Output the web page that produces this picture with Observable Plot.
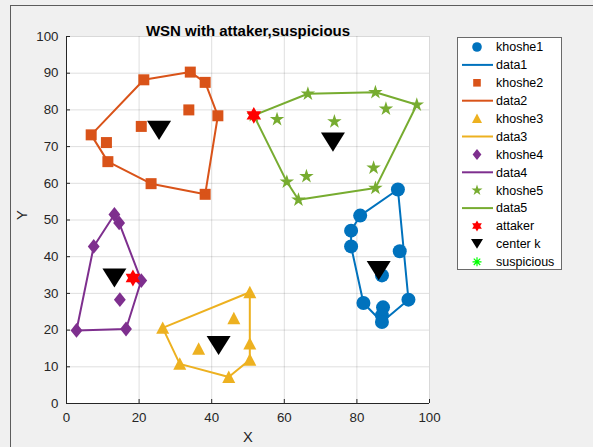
<!DOCTYPE html>
<html>
<head>
<meta charset="utf-8">
<script src="https://cdn.jsdelivr.net/npm/d3@7"></script>
<script src="https://cdn.jsdelivr.net/npm/@observablehq/plot@0.6"></script>
<style>
  html, body { margin: 0; padding: 0; background: #f0f0f0; }
  #wrap { position: relative; width: 593px; height: 447px; overflow: hidden; }
  #edge { position: absolute; left: 10px; top: 5px; right: -2px; bottom: -2px;
          border-top: 1px solid #5c5c5c; border-left: 1px solid #5c5c5c; }
  #chart { position: absolute; left: 0; top: 0; }
</style>
</head>
<body>
<div id="wrap"><div id="edge"></div><div id="chart"></div></div>
<script>
// Axis ticks
const xTicks = [0, 20, 40, 60, 80, 100];
const yTicks = [0, 10, 20, 30, 40, 50, 60, 70, 80, 90, 100];

// Sensor nodes of each cluster (x, y)
const khoshe1 = [[91.3, 58.3], [80.9, 51.2], [78.4, 47.1], [78.4, 42.8], [91.8, 41.5], [86.9, 34.9],
                 [81.8, 27.4], [94.2, 28.3], [87.2, 26.2], [86.9, 24.0], [86.9, 22.2]];
const khoshe2 = [[6.8, 73.2], [11.0, 71.1], [11.4, 65.9], [21.3, 88.2], [20.6, 75.5], [34.1, 90.3],
                 [38.2, 87.5], [33.7, 80.0], [41.7, 78.4], [23.3, 59.9], [38.2, 57.0]];
const khoshe3 = [[50.5, 30.3], [46.1, 23.2], [26.5, 20.6], [36.4, 14.9], [50.5, 16.3], [50.5, 11.9],
                 [31.2, 10.8], [44.7, 7.2]];
const khoshe4 = [[13.2, 51.5], [14.5, 49.2], [7.5, 42.8], [2.75, 19.9], [16.4, 20.3], [14.7, 28.3],
                 [20.6, 33.5]];
const khoshe5 = [[51.6, 78.5], [58.0, 77.4], [66.5, 84.4], [85.1, 84.8], [88.0, 80.3], [96.5, 81.4],
                 [73.8, 76.8], [60.7, 60.4], [66.1, 61.9], [63.9, 55.5], [84.6, 64.2], [85.1, 58.7]];

// Attacking nodes, cluster heads and suspicious nodes
const attaker = [[51.6, 78.5], [18.3, 34.2]];
const centerK = [[86.0, 36.2], [25.5, 74.4], [41.9, 15.8], [13.2, 34.2], [73.4, 71.2]];
const suspicious = [];

const colors = ["#0072BD", "#D95319", "#EDB120", "#7E2F8E", "#77AC30"];

// Closed convex hull around a cluster
const hullOf = pts => { const h = d3.polygonHull(pts); return [...h, h[0]]; };
const data1 = hullOf(khoshe1), data2 = hullOf(khoshe2), data3 = hullOf(khoshe3),
      data4 = hullOf(khoshe4), data5 = hullOf(khoshe5);

// Marker shapes (unit coordinates scaled by the dot radius)
const shape = pts => ({
  draw(ctx, size) {
    const r = Math.sqrt(size / Math.PI);
    pts.forEach(([a, b], i) => i ? ctx.lineTo(a * r, b * r) : ctx.moveTo(a * r, b * r));
    ctx.closePath();
  }
});
const starPts = (n, inner) => d3.range(2 * n).map(i => {
  const ang = -Math.PI / 2 + i * Math.PI / n, rr = i % 2 ? inner : 1;
  return [rr * Math.cos(ang), rr * Math.sin(ang)];
});
const circleSym = d3.symbolCircle;
const squareSym = shape([[-1, -1], [1, -1], [1, 1], [-1, 1]]);
const triUp = shape([[0, -1], [1, 0.9], [-1, 0.9]]);
const triDown = shape([[-1, -0.8], [1, -0.8], [0, 0.8]]);
const diamondSym = shape([[0, -1], [0.8, 0], [0, 1], [-0.8, 0]]);
const pentagram = shape(starPts(5, 0.382));
const hexagram = shape(starPts(6, 0.577));

const font = "'Liberation Sans', Arial, Helvetica, sans-serif";
const ink = "#262626";

const nodes = (pts, symbol, r, fill) =>
  Plot.dot(pts, {x: d => d[0], y: d => d[1], symbol, r, fill, stroke: null});
const hull = (pts, stroke) =>
  Plot.line(pts, {x: d => d[0], y: d => d[1], stroke, strokeWidth: 2, curve: "linear"});

const chart = Plot.plot({
  width: 593,
  height: 447,
  marginLeft: 66,
  marginRight: 164,
  marginTop: 36,
  marginBottom: 44,
  style: {fontFamily: font, fontSize: "13.3px", background: "transparent", color: ink},
  x: {domain: [0, 100], label: null},
  y: {domain: [0, 100], label: null},
  marks: [
    Plot.frame({fill: "white", stroke: null}),
    Plot.gridX({ticks: xTicks, stroke: ink, strokeOpacity: 0.15}),
    Plot.gridY({ticks: yTicks, stroke: ink, strokeOpacity: 0.15}),
    Plot.ruleY([0], {stroke: ink}),
    Plot.ruleX([0], {stroke: ink}),
    Plot.axisX({ticks: xTicks, tickSize: -4, tickPadding: 13, stroke: ink, fill: ink, label: null, tickFormat: d => d}),
    Plot.axisY({ticks: yTicks, tickSize: -4, tickPadding: 12, stroke: ink, fill: ink, label: null, tickFormat: d => d}),

    nodes(khoshe1, circleSym, 7, colors[0]),
    hull(data1, colors[0]),
    nodes(khoshe2, squareSym, 5.5, colors[1]),
    hull(data2, colors[1]),
    nodes(khoshe3, triUp, 6.5, colors[2]),
    hull(data3, colors[2]),
    nodes(khoshe4, diamondSym, 7.4, colors[3]),
    hull(data4, colors[3]),
    nodes(khoshe5, pentagram, 7.6, colors[4]),
    hull(data5, colors[4]),
    nodes(attaker, hexagram, 8.4, "#FF0000"),
    nodes(centerK, triDown, 12, "#000000"),
    nodes(suspicious, d3.symbolCross, 6, "#00FF00"),

    Plot.text(["WSN with attaker,suspicious"], {text: d => d, frameAnchor: "top", dy: -11,
      fontWeight: "bold", fontSize: 15, fill: "#000"}),
    Plot.text(["X"], {text: d => d, frameAnchor: "bottom", dy: 38, fontSize: 14.7, fill: ink}),
    Plot.text(["Y"], {text: d => d, frameAnchor: "left", dx: -44, rotate: -90, fontSize: 14.7, fill: ink})
  ]
});

// Legend box to the right of the axes
const svg = d3.select(chart);
const lg = svg.append("g").attr("font-family", font).attr("font-size", 12.5).attr("text-anchor", "start");
lg.append("rect").attr("x", 457.5).attr("y", 37.5).attr("width", 104).attr("height", 232)
  .attr("fill", "white").attr("stroke", "#6a6a6a").attr("stroke-width", 1);

const entries = [
  {label: "khoshe1", sym: circleSym, r: 4.8, color: colors[0]},
  {label: "data1", line: colors[0]},
  {label: "khoshe2", sym: squareSym, r: 3.8, color: colors[1]},
  {label: "data2", line: colors[1]},
  {label: "khoshe3", sym: triUp, r: 5, color: colors[2]},
  {label: "data3", line: colors[2]},
  {label: "khoshe4", sym: diamondSym, r: 5.5, color: colors[3]},
  {label: "data4", line: colors[3]},
  {label: "khoshe5", sym: pentagram, r: 5.8, color: colors[4]},
  {label: "data5", line: colors[4]},
  {label: "attaker", sym: hexagram, r: 5.6, color: "#FF0000"},
  {label: "center k", sym: triDown, r: 6, color: "#000000"},
  {label: "suspicious", asterisk: "#00FF00"}
];

entries.forEach((e, i) => {
  const y = 47 + i * 17.9;
  const g = lg.append("g");
  if (e.line) {
    g.append("line").attr("x1", 462).attr("x2", 493).attr("y1", y).attr("y2", y)
      .attr("stroke", e.line).attr("stroke-width", 2);
  } else if (e.asterisk) {
    const s = 4.5, t = s * 0.72;
    g.append("path")
      .attr("d", `M477,${y - s}V${y + s}M${477 - s},${y}H${477 + s}M${477 - t},${y - t}L${477 + t},${y + t}M${477 - t},${y + t}L${477 + t},${y - t}`)
      .attr("stroke", e.asterisk).attr("stroke-width", 1.2).attr("fill", "none");
  } else {
    g.append("path").attr("d", d3.symbol(e.sym, Math.PI * e.r * e.r)())
      .attr("transform", `translate(477,${y})`).attr("fill", e.color);
  }
  g.append("text").attr("x", 496).attr("y", y).attr("dy", "0.35em").attr("fill", "#000")
    .attr("text-anchor", "start").text(e.label);
});

document.getElementById("chart").appendChild(chart);
</script>
</body>
</html>
